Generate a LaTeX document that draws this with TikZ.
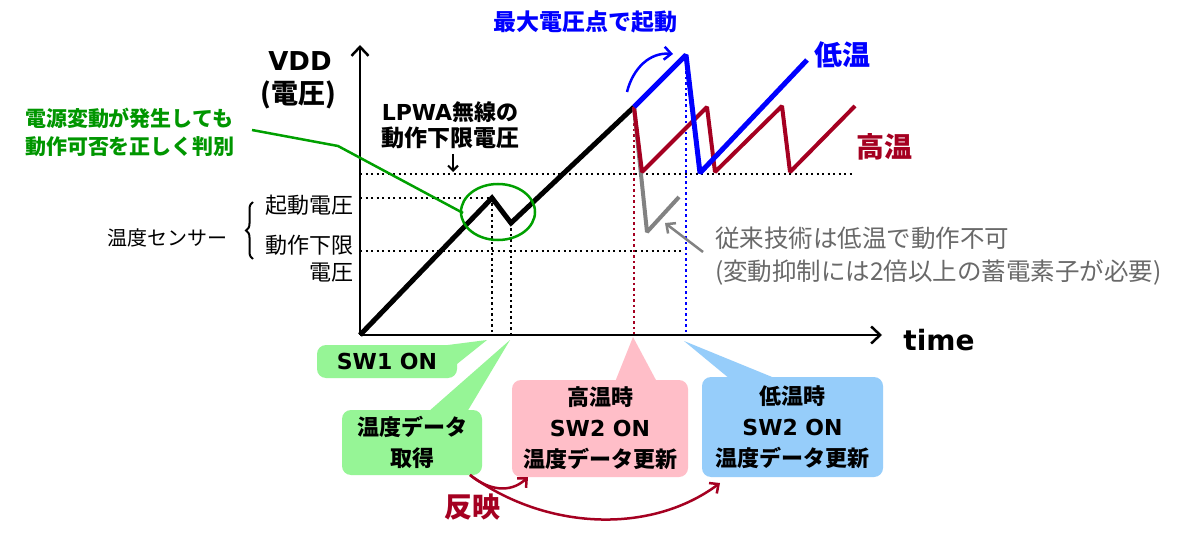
\documentclass[tikz,border=0pt]{standalone}
\usepackage{fontspec}
\setmainfont{Noto Sans CJK JP}
\newfontfamily\dv{DejaVu Sans}
\usetikzlibrary{arrows.meta,decorations.pathreplacing}
\definecolor{dred}{RGB}{165,0,33}
\definecolor{gline}{RGB}{0,160,0}
\definecolor{gtext}{RGB}{0,150,0}
\definecolor{grayline}{RGB}{130,130,130}
\definecolor{graytext}{RGB}{105,105,105}
\definecolor{boxgreen}{RGB}{150,245,150}
\definecolor{boxpink}{RGB}{255,190,200}
\definecolor{boxblue}{RGB}{150,205,250}
\newcommand{\fz}[1]{\fontsize{#1}{#1}\selectfont}
\begin{document}
\begin{tikzpicture}[x=1pt,y=-1pt,
  txt/.style={inner sep=0pt, outer sep=0pt},
  ax/.style={line width=2.5pt, -{Straight Barb[length=9pt,width=17pt,line width=2.5pt]}},
  dots/.style={line width=2.2pt, dash pattern=on 2.2pt off 3.3pt},
  sig/.style={line width=5pt, line join=miter, miter limit=2},
  sigthin/.style={line width=4pt, line join=miter, miter limit=2},
  thinarrow/.style={line width=2.5pt, -{Straight Barb[length=7pt,width=13pt,line width=2.5pt]}},
  callout/.style={rounded corners=9pt, inner sep=0pt, align=center, font=\fontsize{22}{31}\selectfont\bfseries}]
\fill[white] (0,0) rectangle (1200,548);
\useasboundingbox (0,0) rectangle (1200,548);

% key points
\coordinate (O) at (360,335);
\coordinate (Ytop) at (360,45);
\coordinate (Xend) at (882,335);
\coordinate (P1) at (492,198);
\coordinate (V1) at (511,223);
\coordinate (S) at (634,107);
\coordinate (B1) at (686,55);
\coordinate (B2) at (700,173);
\coordinate (B3) at (807,60);
\coordinate (R1) at (642,172);
\coordinate (R2) at (707,107);
\coordinate (R3) at (715,172);
\coordinate (R4) at (782,106);
\coordinate (R5) at (790,172);
\coordinate (R6) at (855,106);
\coordinate (G1) at (647,232);
\coordinate (G2) at (679,197);

% dotted guides
\draw[dots] (360,174) -- (853,174);
\draw[dots] (360,198) -- (P1);
\draw[dots] (360,251) -- (683,251);
\draw[dots] (P1) -- (492,335);
\draw[dots] (V1) -- (511,335);
\draw[dots,dred] (S) -- (634,335);
\draw[dots,blue] (B1) -- (686,335);

% axes
\draw[ax] (O) -- (Ytop);
\draw[ax] (O) -- (Xend);

% signals
\draw[sig,black] (O) -- (P1) -- (V1) -- (S);
\draw[sigthin,grayline] (S) -- (G1) -- (G2);
\draw[sigthin,dred] (S) -- (R1) -- (R2) -- (R3) -- (R4) -- (R5) -- (R6);
\draw[sig,blue] (S) -- (B1) -- (B2) -- (B3);

% green ellipse and leader
\draw[gline,line width=2.5pt] (498,212) ellipse [x radius=37, y radius=28];
\node[txt,align=left,text=gtext,font=\fontsize{21}{28}\selectfont\bfseries] (gt) at (130,132) {電源変動が発生しても\\動作可否を正しく判別};
\coordinate (gl0) at (252,130);
\coordinate (gl1) at (338,146);
\coordinate (gl2) at (463,213);
\draw[gline,line width=2.5pt] (gl0) -- (gl1) -- (gl2);

% axis labels
\node[txt,font=\dv\bfseries\fz{26}] (vdd) at (300,61) {VDD};
\node[txt,font=\bfseries\fz{27}] (vdd2) at (298,95) {(電圧)};
\node[txt,font=\dv\bfseries\fz{28}] (time) at (939,340) {time};

% sensor labels
\node[txt,font=\fz{20}] (sens) at (167,238) {温度センサー};
\draw[line width=2pt,decorate,decoration={brace,amplitude=7pt}] (253,259) -- (253,202);
\node[txt,anchor=east,font=\fz{22}] (kido) at (353,205) {起動電圧};
\node[txt,anchor=east,font=\fz{22}] (dosa) at (353,245) {動作下限};
\node[txt,anchor=east,font=\fz{22}] (dosa2) at (353,273) {電圧};

% LPWA label
\node[txt,font=\bfseries\fz{22}] (lpwa1) at (450,112) {{\dv LPWA}無線の};
\node[txt,font=\bfseries\fz{23}] (lpwa2) at (450,138) {動作下限電圧};
\coordinate (la0) at (453,154);
\coordinate (la1) at (453,172);
\draw[line width=2pt,-{Straight Barb[length=5pt,width=10pt,line width=2pt]}] (la0) -- (la1);

% title and curved arrow
\node[txt,text=blue,font=\bfseries\fz{23}] (title) at (585,22) {最大電圧点で起動};
\coordinate (ca0) at (627,92);
\coordinate (ca1) at (673,54);
\draw[blue,thinarrow] (ca0) .. controls (633,68) and (650,52) .. (ca1);

% temperature labels
\node[txt,text=blue,font=\bfseries\fz{28}] (low) at (842,55) {低温};
\node[txt,text=dred,font=\bfseries\fz{28}] (high) at (884,147) {高温};

% gray note
\coordinate (gr0) at (703,252);
\coordinate (gr1) at (665,223);
\draw[grayline,thinarrow] (gr0) -- (gr1);
\node[txt,anchor=west,text=graytext,font=\fz{24.5}] (note1) at (715,238) {従来技術は低温で動作不可};
\node[txt,anchor=west,text=graytext,font=\fz{24.5}] (note2) at (715,273) {(変動抑制には2倍以上の蓄電素子が必要)};

% callouts
\fill[boxgreen] (440,346) -- (487,340) -- (457,364) -- cycle;
\node[callout,fill=boxgreen,minimum width=140pt,minimum height=33pt,font=\dv\bfseries\fz{22}] (sw1) at (387,361.5) {SW1 ON};
\fill[boxgreen] (428,412) -- (510,340) -- (467,412) -- cycle;
\node[callout,fill=boxgreen,minimum width=140pt,minimum height=65pt] (get) at (412,442.5) {温度データ\\取得};
\fill[boxpink] (615,382) -- (633,337) -- (657,382) -- cycle;
\node[callout,fill=boxpink,minimum width=176pt,minimum height=97pt] (hi) at (600,428.5) {高温時\\{\dv SW2 ON}\\温度データ更新};
\fill[boxblue] (730,379) -- (684,341) -- (777,379) -- cycle;
\node[callout,fill=boxblue,minimum width=181pt,minimum height=100pt] (lo) at (792.5,427) {低温時\\{\dv SW2 ON}\\温度データ更新};

% reflect arrows
\coordinate (rf0) at (470,475);
\coordinate (rf1) at (528,477);
\coordinate (rf2) at (720,483);
\draw[dred,thinarrow] (rf0) .. controls (488,490) and (510,494) .. (rf1);
\draw[dred,thinarrow] (rf0) .. controls (545,530) and (650,535) .. (rf2);
\node[txt,text=dred,font=\bfseries\fz{28}] (refl) at (472,507) {反映};
\end{tikzpicture}
\end{document}
